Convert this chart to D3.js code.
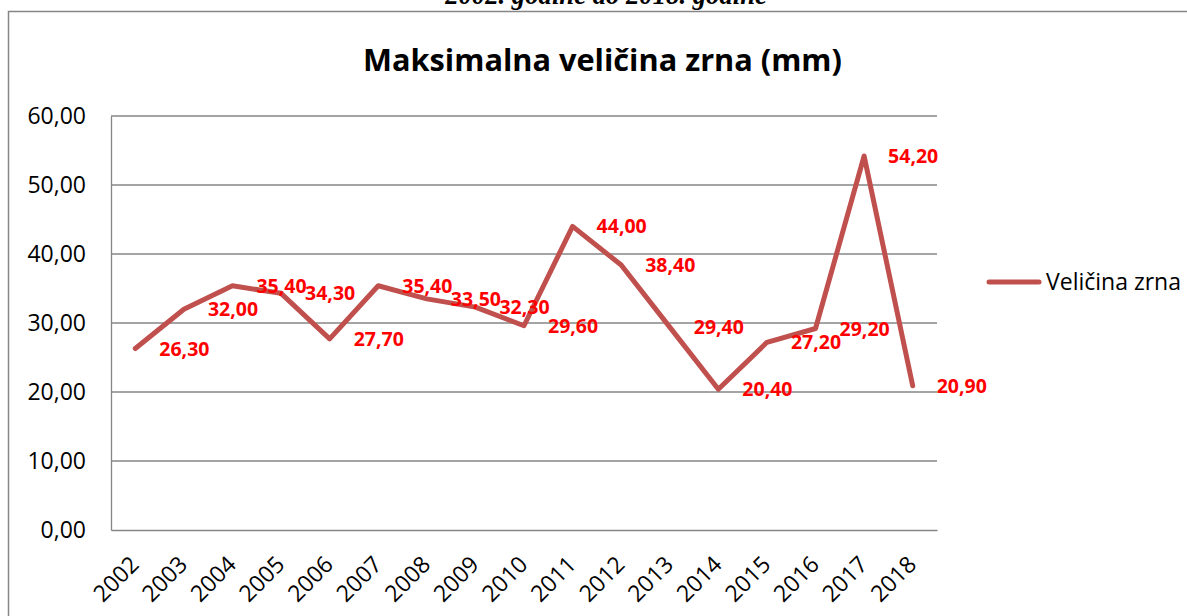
<!DOCTYPE html>
<html>
<head>
<meta charset="utf-8">
<script src="https://cdn.jsdelivr.net/npm/d3@7"></script>
<style>
  html, body { margin: 0; padding: 0; background: #fff; }
  svg { display: block; }
</style>
</head>
<body>
<svg id="chart" width="1187" height="616"></svg>
<script>
// data
const years = ["2002", "2003", "2004", "2005", "2006", "2007", "2008", "2009", "2010",
  "2011", "2012", "2013", "2014", "2015", "2016", "2017", "2018"];
const values = [26.3, 32.0, 35.4, 34.3, 27.7, 35.4, 33.5, 32.3, 29.6,
  44.0, 38.4, 29.4, 20.4, 27.2, 29.2, 54.2, 20.9];
const yTicks = [0, 10, 20, 30, 40, 50, 60];
const seriesName = "Veličina zrna";
const chartTitle = "Maksimalna veličina zrna (mm)";
const captionText = "2002. godine do 2018. godine";

const svg = d3.select("#chart");
const plot = { left: 111, right: 937, top: 116, bottom: 530 };
const lineColor = "#C0504D";
const gridColor = "#868686";
const fmt = v => v.toFixed(2).replace(".", ",");

// scale font-size so text gets the wanted width
function fitText(sel, width) {
  const fs = parseFloat(sel.attr("font-size"));
  const w = sel.node().getComputedTextLength();
  sel.attr("font-size", fs * width / w);
}

const x = d3.scaleBand().domain(years).range([plot.left, plot.right]);
const y = d3.scaleLinear().domain([0, 60]).range([plot.bottom, plot.top]);
const cx = d => x(d) + x.bandwidth() / 2;

// caption cut off at the top of the page
const cap = svg.append("text")
    .attr("x", 606).attr("y", 4)
    .attr("text-anchor", "middle")
    .attr("font-family", "Liberation Serif")
    .attr("font-weight", "bold").attr("font-style", "italic")
    .attr("font-size", 24)
    .text(captionText);
fitText(cap, 322);

// outer chart frame (runs off right and bottom)
svg.append("path")
    .attr("d", "M8.5,640 L8.5,11.5 L1200,11.5")
    .attr("fill", "none")
    .attr("stroke", gridColor)
    .attr("stroke-width", 1.5);

// title
const title = svg.append("text")
    .attr("x", 602.5).attr("y", 71)
    .attr("text-anchor", "middle")
    .attr("font-family", "Open Sans")
    .attr("font-weight", "bold")
    .attr("font-size", 30)
    .text(chartTitle);
fitText(title, 479);

// gridlines
svg.append("g")
    .selectAll("line")
    .data(yTicks.filter(t => t > 0))
    .join("line")
    .attr("x1", plot.left).attr("x2", plot.right)
    .attr("y1", d => y(d)).attr("y2", d => y(d))
    .attr("stroke", gridColor)
    .attr("stroke-width", 1.3);

// y axis
const yAxis = svg.append("g")
    .attr("transform", `translate(${plot.left},0)`)
    .call(d3.axisLeft(y).tickValues(yTicks).tickFormat(fmt).tickSize(0).tickPadding(25));
yAxis.select(".domain").attr("stroke", gridColor).attr("stroke-width", 1.3);
yAxis.selectAll("text")
    .attr("font-family", "Open Sans")
    .attr("font-size", 23)
    .attr("fill", "#000");

// x axis
const xAxis = svg.append("g")
    .attr("transform", `translate(0,${plot.bottom})`)
    .call(d3.axisBottom(x).tickSize(0).tickPadding(0));
xAxis.select(".domain").attr("stroke", gridColor).attr("stroke-width", 1.3);
xAxis.selectAll("text")
    .attr("font-family", "Open Sans")
    .attr("font-size", 23)
    .attr("fill", "#000")
    .attr("text-anchor", "end")
    .attr("dy", 0)
    .attr("y", 0)
    .attr("transform", "translate(5,36) rotate(-45)");

// series line
const line = d3.line()
    .x((d, i) => cx(years[i]))
    .y(d => y(d));

svg.append("path")
    .datum(values)
    .attr("d", line)
    .attr("fill", "none")
    .attr("stroke", lineColor)
    .attr("stroke-width", 5)
    .attr("stroke-linejoin", "round")
    .attr("stroke-linecap", "round");

// data labels, to the right of each point
svg.append("g")
    .selectAll("text")
    .data(values)
    .join("text")
    .attr("x", (d, i) => cx(years[i]) + 24)
    .attr("y", d => y(d))
    .attr("dy", "0.36em")
    .attr("font-family", "Open Sans")
    .attr("font-weight", "bold")
    .attr("font-size", 19.5)
    .attr("fill", "#FF0000")
    .text(fmt);

// legend
const legend = svg.append("g");
legend.append("line")
    .attr("x1", 989).attr("x2", 1039)
    .attr("y1", 282).attr("y2", 282)
    .attr("stroke", lineColor)
    .attr("stroke-width", 5)
    .attr("stroke-linecap", "round");
const legText = legend.append("text")
    .attr("x", 1046).attr("y", 290)
    .attr("font-family", "Open Sans")
    .attr("font-size", 23)
    .attr("fill", "#000")
    .text(seriesName);
fitText(legText, 135);
</script>
</body>
</html>
